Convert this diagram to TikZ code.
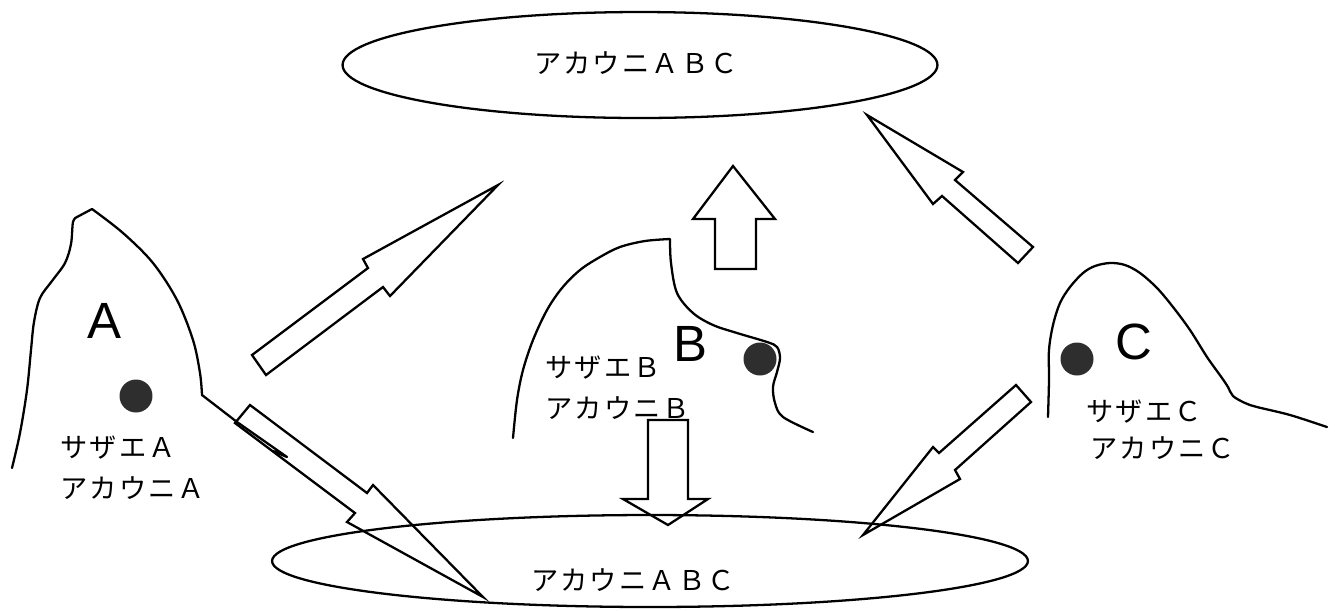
\documentclass[tikz,border=0pt]{standalone}
\usepackage{fontspec}
\newfontfamily\gothic[LetterSpace=8]{Noto Sans CJK JP}
\newfontfamily\latinsans{Liberation Sans}
\usetikzlibrary{shapes.geometric}
\begin{document}
\begin{tikzpicture}[x=0.02cm, y=-0.02cm,
  outline/.style={draw=black, line width=1.3pt, line join=round, line cap=round},
  blockarrow/.style={draw=black, line width=1.3pt, line join=miter, miter limit=12},
  pool/.style={ellipse, draw=black, line width=1.3pt, inner sep=0pt},
  caption/.style={font=\gothic\fontsize{15.5}{18}\selectfont, inner sep=0pt},
  region/.style={font=\latinsans\fontsize{29}{34}\selectfont, inner sep=0pt},
  spot/.style={circle, fill=black!82, minimum size=0.66cm, inner sep=0pt}]
\useasboundingbox (0,0) rectangle (1335,610);

% the two pools
\node[pool, minimum width=11.9cm, minimum height=2.12cm] (upperpool) at (640,65) {};
\node[caption] (uppertext) at (636,63) {アカウニＡＢＣ};
\node[pool, minimum width=15.12cm, minimum height=1.84cm] (lowerpool) at (650,561) {};
\node[caption] (lowertext) at (633,580) {アカウニＡＢＣ};

% region A
\draw[outline] plot[smooth, tension=0.55] coordinates {(12,468) (20,433) (27,390) (31,350) (34,322) (40,298) (52,281) (65,263) (71,244) (73,222) (77,217)}
  -- (92,209)
  plot[smooth, tension=0.55] coordinates {(92,209) (123,233) (153,263) (177,300) (193,340) (200,373) (202,395)}
  -- (237,422) -- (287,457) -- (273,451);
\node[region] (letterA) at (104,321) {A};
\node[spot] (dotA) at (136,396) {};
\node[caption, anchor=west] (sazaeA) at (60,448) {サザエＡ};
\node[caption, anchor=west] (akauniA) at (60,488) {アカウニＡ};

% region B
\draw[outline] plot[smooth, tension=0.55] coordinates {(513,438) (517,400) (523,370) (533,340) (547,310) (562,288) (580,270) (600,257) (620,247) (645,241) (670,239)}
  -- (670,239)
  plot[smooth, tension=0.55] coordinates {(670,239) (671,263) (677,293) (693,313) (713,325) (737,333) (767,342) (777,347) (780,358) (777,372) (773,387) (775,403) (783,417) (813,432)};
\node[region] (letterB) at (690,344) {B};
\node[spot] (dotB) at (760,359) {};
\node[caption, anchor=west] (sazaeB) at (545,368) {サザエＢ};
\node[caption, anchor=west] (akauniB) at (545,408) {アカウニＢ};

% region C
\draw[outline] plot[smooth, tension=0.55] coordinates {(1048,417) (1049,380) (1049,350) (1053,325) (1060,303) (1070,287) (1083,273) (1095,266) (1110,263) (1125,265) (1140,273) (1157,288) (1173,307) (1190,330) (1207,357) (1222,378) (1228,387) (1233,396) (1245,403) (1257,407) (1290,415) (1327,427)};
\node[region] (letterC) at (1134,342) {C};
\node[spot] (dotC) at (1077,359) {};
\node[caption, anchor=west] (sazaeC) at (1086,412) {サザエＣ};
\node[caption, anchor=west] (akauniC) at (1090,448) {アカウニＣ};

% block arrows between the regions and the pools
\draw[blockarrow] (252,355) -- (266,375) -- (383,287) -- (390,296) -- (498,185) -- (363,259) -- (368,268) -- cycle;
\draw[blockarrow] (250,405) -- (235,423) -- (355,513) -- (347,522) -- (483,597) -- (373,485) -- (367,493) -- cycle;
\draw[blockarrow] (733,166) -- (775,219) -- (756,219) -- (756,269) -- (715,269) -- (715,219) -- (693,219) -- cycle;
\draw[blockarrow] (648,420) -- (688,420) -- (688,499) -- (708,499) -- (668,525) -- (623,499) -- (648,499) -- cycle;
\draw[blockarrow] (867,115) -- (963,172) -- (955,180) -- (1033,247) -- (1018,263) -- (942,196) -- (933,204) -- cycle;
\draw[blockarrow] (1016,385) -- (1031,402) -- (955,470) -- (960,479) -- (863,535) -- (933,447) -- (939,453) -- cycle;
\end{tikzpicture}
\end{document}
